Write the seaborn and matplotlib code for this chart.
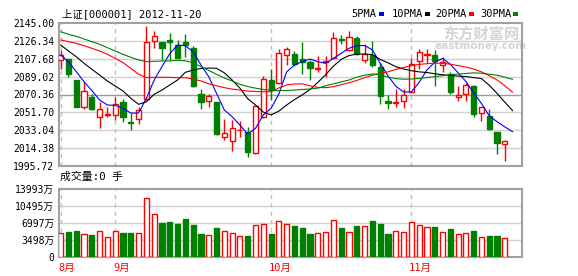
import numpy as np
import pandas as pd
import matplotlib
matplotlib.use("Agg")
import matplotlib.pyplot as plt
import seaborn as sns
from matplotlib.patches import Rectangle

# ---------------- data ----------------
dates = (["2012-08-%02d" % d for d in [23, 24, 27, 28, 29, 30, 31]] +
         ["2012-09-%02d" % d for d in [3, 4, 5, 6, 7, 10, 11, 12, 13, 14, 17, 18, 19, 20, 21,
                                        24, 25, 26, 27, 28]] +
         ["2012-10-%02d" % d for d in [8, 9, 10, 11, 12, 15, 16, 17, 18, 19, 22, 23, 24, 25, 26,
                                        29, 30, 31]] +
         ["2012-11-%02d" % d for d in [1, 2, 5, 6, 7, 8, 9, 12, 13, 14, 15, 16, 19, 20]])

open_ = [2106.1, 2107.7, 2085.5, 2057.6, 2067.4, 2047.2, 2049.3, 2048.6, 2062.2, 2042.0,
         2044.5, 2065.3, 2125.9, 2125.2, 2127.3, 2122.3, 2124.9, 2118.9, 2070.9, 2063.6,
         2062.5, 2025.7, 2021.5, 2033.0, 2031.5, 2009.0, 2046.5, 2085.2, 2082.7, 2111.6,
         2112.6, 2107.7, 2104.3, 2097.0, 2104.0, 2108.1, 2128.3, 2117.1, 2129.3, 2106.0,
         2111.9, 2099.0, 2063.2, 2062.0, 2063.6, 2072.6, 2105.3, 2112.0, 2111.9, 2101.2,
         2091.4, 2068.0, 2071.2, 2079.5, 2050.7, 2047.9, 2031.2, 2018.7, np.nan]
close = [2111.3, 2091.8, 2057.6, 2073.7, 2055.5, 2054.9, 2050.5, 2060.4, 2047.2, 2041.0,
         2054.0, 2125.2, 2131.1, 2119.2, 2124.9, 2108.8, 2122.4, 2079.2, 2062.2, 2068.8,
         2029.4, 2029.8, 2035.7, 2033.6, 2010.0, 2058.3, 2086.5, 2075.1, 2113.4, 2117.5,
         2102.2, 2104.6, 2098.3, 2098.3, 2105.0, 2129.0, 2127.7, 2130.0, 2112.6, 2113.0,
         2101.5, 2068.5, 2061.2, 2063.0, 2069.8, 2102.5, 2114.4, 2112.8, 2105.3, 2104.3,
         2072.6, 2069.8, 2080.3, 2050.0, 2057.3, 2034.3, 2020.2, 2021.8, np.nan]
high = [2116.8, 2107.9, 2086.0, 2083.7, 2070.9, 2062.2, 2057.0, 2067.4, 2065.7, 2051.4,
        2057.6, 2141.9, 2137.0, 2125.5, 2134.2, 2127.3, 2133.2, 2121.0, 2076.1, 2070.9,
        2062.8, 2044.5, 2043.4, 2042.4, 2036.0, 2059.0, 2089.7, 2096.7, 2117.9, 2120.0,
        2116.1, 2124.9, 2106.0, 2110.2, 2110.9, 2135.3, 2132.5, 2137.0, 2131.7, 2123.0,
        2125.9, 2102.9, 2069.5, 2075.8, 2075.8, 2108.8, 2118.2, 2117.5, 2117.1, 2109.2,
        2093.5, 2079.2, 2082.0, 2079.8, 2057.5, 2055.5, 2031.5, 2022.9, np.nan]
low = [2096.7, 2089.0, 2057.0, 2054.9, 2053.9, 2035.7, 2046.5, 2044.1, 2041.6, 2033.3,
       2040.0, 2065.0, 2118.6, 2106.4, 2106.4, 2108.0, 2109.8, 2078.2, 2055.5, 2057.6,
       2027.8, 2023.2, 2011.0, 2025.7, 2005.4, 2007.9, 2046.0, 2064.6, 2081.6, 2101.2,
       2100.4, 2092.1, 2085.5, 2093.5, 2088.3, 2108.0, 2123.0, 2116.0, 2112.0, 2103.6,
       2099.0, 2060.1, 2055.2, 2057.0, 2056.0, 2072.3, 2096.7, 2103.6, 2079.5, 2093.5,
       2070.6, 2063.6, 2063.6, 2047.2, 2043.0, 2033.3, 2007.9, 2001.2, np.nan]

ma5 = [2111.6, 2104.6, 2094.2, 2083.7, 2074.5, 2064.6, 2059.4, 2059.0, 2055.9, 2051.0,
       2051.0, 2066.4, 2085.5, 2099.5, 2113.0, 2122.0, 2121.3, 2115.0, 2101.2, 2089.0,
       2071.6, 2054.2, 2047.2, 2038.5, 2029.0, 2035.0, 2049.0, 2055.9, 2071.0, 2094.0,
       2101.2, 2104.6, 2107.4, 2104.6, 2102.9, 2108.1, 2113.4, 2118.6, 2121.3, 2121.5,
       2117.0, 2103.0, 2090.0, 2079.0, 2073.0, 2073.0, 2083.0, 2096.0, 2104.0, 2108.1,
       2102.0, 2093.0, 2084.0, 2072.0, 2061.0, 2048.0, 2042.0, 2036.5, 2031.5]
ma10 = [2122.0, 2115.8, 2109.8, 2102.9, 2096.7, 2090.7, 2084.4, 2079.2, 2074.0, 2066.4,
        2060.1, 2062.8, 2070.6, 2075.0, 2080.3, 2085.5, 2093.5, 2096.0, 2097.5, 2098.0,
        2097.7, 2093.0, 2085.5, 2077.0, 2066.0, 2059.4, 2052.0, 2049.0, 2053.0, 2059.4,
        2065.0, 2070.0, 2075.5, 2083.0, 2091.0, 2100.0, 2107.0, 2111.0, 2112.6, 2112.6,
        2112.0, 2107.0, 2103.5, 2099.4, 2097.0, 2095.2, 2094.0, 2093.3, 2092.0, 2091.0,
        2090.2, 2089.6, 2089.1, 2088.0, 2087.0, 2080.0, 2071.5, 2062.3, 2053.4]
ma20 = [2127.3, 2125.5, 2123.8, 2121.3, 2118.6, 2115.8, 2112.3, 2108.1, 2103.6, 2097.7,
        2091.4, 2088.0, 2088.3, 2088.3, 2088.3, 2087.9, 2087.9, 2086.5, 2084.5, 2081.5,
        2079.5, 2077.5, 2076.0, 2075.0, 2074.0, 2073.5, 2073.3, 2073.3, 2077.2, 2080.3,
        2081.3, 2081.5, 2079.5, 2077.7, 2077.5, 2078.5, 2080.5, 2082.7, 2085.0, 2088.0,
        2090.5, 2092.5, 2094.0, 2096.5, 2098.5, 2100.5, 2101.8, 2102.5, 2103.0, 2103.0,
        2102.0, 2100.5, 2099.0, 2097.0, 2094.0, 2090.0, 2085.5, 2079.5, 2072.6]
ma30 = [2135.9, 2133.2, 2131.1, 2128.3, 2125.5, 2122.8, 2119.2, 2115.8, 2112.3, 2109.2,
        2106.4, 2104.6, 2105.0, 2105.3, 2105.5, 2106.0, 2105.5, 2103.5, 2099.4, 2095.5,
        2091.4, 2087.6, 2084.4, 2081.0, 2078.7, 2077.0, 2075.6, 2074.8, 2074.3, 2074.6,
        2075.0, 2075.6, 2076.1, 2077.0, 2079.5, 2081.5, 2083.5, 2085.5, 2088.5, 2090.5,
        2091.8, 2091.0, 2088.5, 2087.0, 2086.3, 2086.5, 2087.3, 2088.0, 2089.0, 2090.0,
        2091.0, 2091.7, 2092.3, 2093.0, 2092.5, 2091.5, 2090.5, 2088.5, 2086.2]

volume = [5045, 5160, 5370, 4750, 4540, 5300, 4060, 5300, 4950, 4950,
          4890, 12130, 8860, 7030, 7260, 6820, 7850, 6640, 4750, 4500,
          5990, 5300, 4890, 4300, 4340, 6550, 6760, 4750, 7370, 6760,
          6410, 5990, 4750, 4890, 5170, 7600, 6020, 5140, 6410, 6410,
          7440, 6820, 4750, 5300, 5100, 7200, 6550, 6140, 6200, 5100,
          5790, 4690, 4890, 5370, 4070, 4340, 4340, 3860, 0]

price_ticks = [1995.72, 2014.38, 2033.04, 2051.70, 2070.36, 2089.02, 2107.68, 2126.34, 2145.00]
vol_ticks = [0, 3498, 6997, 10495, 13993]
vol_tick_labels = ["0", "3498万", "6997万", "10495万", "13993万"]
ma_names = ["5PMA", "10PMA", "20PMA", "30PMA"]
ma_colors = ["#0000ff", "#000000", "#ff0000", "#008000"]
title = "上证[000001] 2012-11-20"
vol_caption = "成交量:0 手"

# ---------------- style ----------------
sns.set_style("white")
plt.rcParams["font.family"] = ["DejaVu Sans Mono", "Noto Sans CJK SC"]

RED, GREEN = "#ff0000", "#008000"
W, H = 578, 276
fig = plt.figure(figsize=(W / 100, H / 100), dpi=100)
fig.patch.set_facecolor("white")


def fx(px):
    return px / W


def fy(py):
    return 1 - py / H


L, R = 58.5, 522
ax = fig.add_axes([fx(L), fy(166), (R - L) / W, (166 - 23) / H])
axv = fig.add_axes([fx(L), fy(257), (R - L) / W, (257 - 189.3) / H])

n = len(dates)
x = np.arange(n)
o = np.array(open_)
c = np.array(close)
hi = np.array(high)
lo = np.array(low)
valid = ~np.isnan(o)
up = c >= o
edge = np.where(up, RED, GREEN)
face = np.where(up, "white", GREEN)

month_pos = [i for i in range(n) if i == 0 or dates[i][5:7] != dates[i - 1][5:7]]
month_lab = ["%d月" % int(dates[i][5:7]) for i in month_pos]

for a in (ax, axv):
    for p in month_pos:
        a.axvline(p, color="#c0c0c0", lw=1, ls=(0, (3, 3)), zorder=1)
    for s in a.spines.values():
        s.set_color("#a0a0a0")
        s.set_linewidth(1.5)
    a.set_xlim(-0.28, 59.2)
    a.set_xticks([])
    a.tick_params(axis="y", length=0, pad=3, labelsize=7, labelcolor="black")

# candles
xv = x[valid]
ax.vlines(xv, lo[valid], hi[valid], colors=edge[valid], lw=1, zorder=3)
ax.bar(xv, np.abs(c - o)[valid], bottom=np.minimum(o, c)[valid], width=0.66,
       color=face[valid], edgecolor=edge[valid], linewidth=1, zorder=4)

# moving averages
ma_df = pd.DataFrame({"x": x, "5PMA": ma5, "10PMA": ma10, "20PMA": ma20, "30PMA": ma30})
ma_long = ma_df.melt(id_vars="x", var_name="ma", value_name="v")
sns.lineplot(data=ma_long, x="x", y="v", hue="ma", hue_order=ma_names,
             palette=dict(zip(ma_names, ma_colors)), estimator=None, legend=False,
             linewidth=0.8, ax=ax, zorder=5)

ax.set_ylim(price_ticks[0], price_ticks[-1])
ax.set_yticks(price_ticks)
ax.set_yticklabels(["%.2f" % v for v in price_ticks])
for v in price_ticks[1:-1]:
    ax.axhline(v, color="#999999" if v == price_ticks[4] else "#d0d0d0", lw=1, zorder=0.5)
ax.set_xlabel("")
ax.set_ylabel("")

# volume
vol = np.array(volume, dtype=float)
axv.bar(xv, vol[valid], width=0.66, color=face[valid], edgecolor=edge[valid], linewidth=1, zorder=3)
axv.set_ylim(0, vol_ticks[-1])
axv.set_yticks(vol_ticks)
axv.set_yticklabels(vol_tick_labels)
for v in vol_ticks[1:-1]:
    axv.axhline(v, color="#d0d0d0", lw=1, zorder=0.5)
for p, lab in zip(month_pos, month_lab):
    axv.text(p - 0.3, -0.16, lab, transform=axv.get_xaxis_transform(), color=RED,
             fontsize=7.5, ha="left", va="center")

# texts
fig.text(fx(62), fy(14), title, fontsize=7.5, ha="left", va="center", color="black")
fig.text(fx(60), fy(177), vol_caption, fontsize=7.8, ha="left", va="center", color="black")

leg_x = [351.5, 391.5, 435.5, 480]
for name, col, lx in zip(ma_names, ma_colors, leg_x):
    fig.text(fx(lx), fy(14), name, fontsize=7.5, ha="left", va="center", color="black")
    wpx = 6.25 * len(name)
    fig.add_artist(Rectangle((fx(lx + wpx + 2), fy(15.5)), 5 / W, 3 / H,
                             transform=fig.transFigure, color=col, lw=0))

# watermark
ax.text(fx(481), fy(34), "东方财富网", transform=fig.transFigure, fontsize=11,
        fontweight="bold", color="#d4d4d4", ha="center", va="center", zorder=0.6,
        family=["Noto Sans CJK SC"])
ax.text(fx(481), fy(46), "eastmoney.com", transform=fig.transFigure, fontsize=7.5,
        fontweight="bold", color="#d4d4d4", ha="center", va="center", zorder=0.6,
        family=["DejaVu Sans"])

fig.savefig("out.png", dpi=100, facecolor="white")
